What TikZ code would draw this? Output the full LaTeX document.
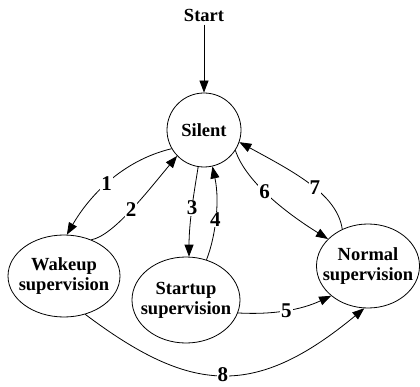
\documentclass[tikz,border=0pt]{standalone}
\usepackage{fontspec}
\setmainfont{Liberation Serif}
\usetikzlibrary{arrows.meta,shapes.geometric}
\begin{document}
\begin{tikzpicture}[x=1pt,y=-1pt,
  state/.style={draw,line width=0.8pt,inner sep=0pt,align=center,
    font=\fontsize{18.5}{20}\selectfont\bfseries},
  oval/.style={state,ellipse,inner xsep=-25pt,inner ysep=-20pt},
  trans/.style={line width=0.8pt,-{Triangle[length=12pt,width=9pt]}},
  num/.style={fill=white,inner sep=1pt,font=\fontsize{21}{22}\selectfont\bfseries}]
  \useasboundingbox (0,0) rectangle (420,387);

  % states
  \node[font=\fontsize{18.5}{20}\selectfont\bfseries] (start) at (204,15) {Start};
  \node[state,circle,minimum size=74pt] (silent) at (204,130) {Silent};
  \node[oval,minimum width=112pt,minimum height=82pt] (wake) at (64,276) {Wakeup\\supervision};
  \node[oval,minimum width=108pt,minimum height=86pt] (startup) at (186,300) {Startup\\supervision};
  \node[oval,minimum width=103pt,minimum height=84pt] (normal) at (368,266) {Normal\\supervision};

  % transitions
  \draw[trans] (start.south) -- (silent.north);
  \draw[trans] (silent.210) .. controls +(-50,12) and +(22,-38) .. (wake.86)
    node[num,pos=0.52] {1};
  \draw[trans] (wake.53) .. controls +(22,-4) and +(-30,36) .. (silent.224)
    node[num,pos=0.5] {2};
  \draw[trans] (silent.261) .. controls +(-4,25) and +(0,-35) .. (startup.86)
    node[num,pos=0.5] {3};
  \draw[trans] (startup.63) .. controls +(8,-20) and +(8,37) .. (silent.283)
    node[num,pos=0.5] {4};
  \draw[trans] (startup.346) .. controls +(35,2) and +(-30,14) .. (normal.219)
    node[num,pos=0.5] {5};
  \draw[trans] (silent.327) .. controls +(10,30) and +(-45,-28) .. (normal.146)
    node[num,pos=0.46] {6};
  \draw[trans] (normal.125) .. controls +(-5,-35) and +(55,30) .. (silent.341)
    node[num,pos=0.45] {7};
  \draw[trans] (wake.299) .. controls +(105,79) and +(-110,91) .. (normal.265)
    node[num,pos=0.5] {8};
\end{tikzpicture}
\end{document}
